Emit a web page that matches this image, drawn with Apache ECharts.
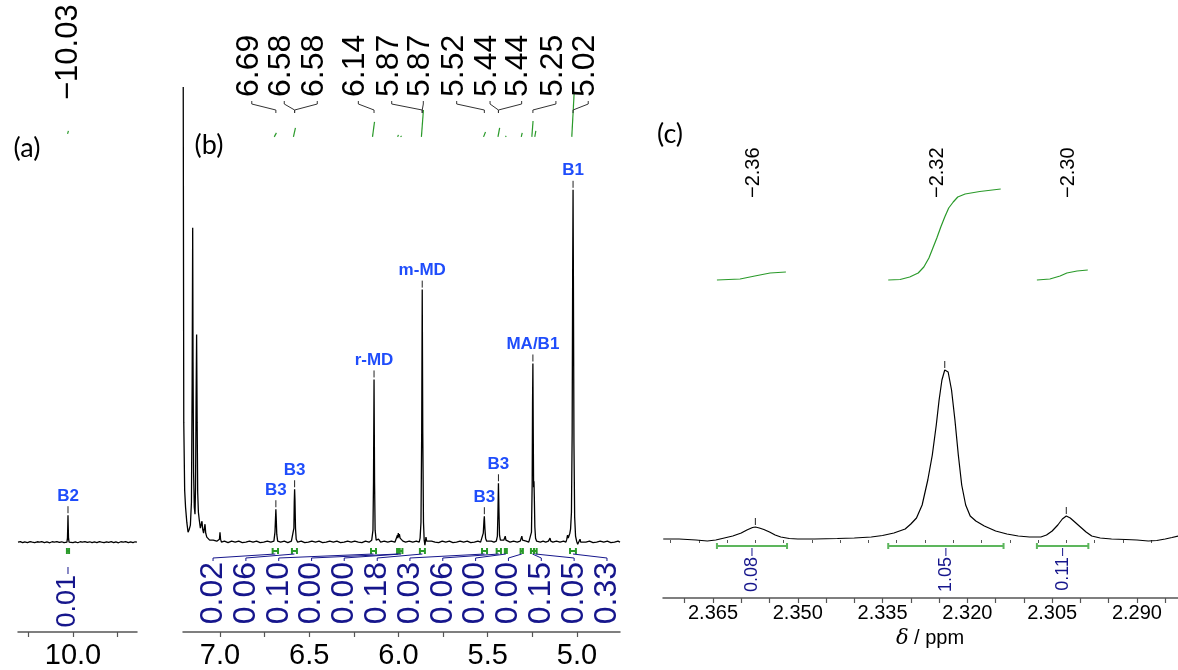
<!DOCTYPE html>
<html>
<head>
<meta charset="utf-8">
<script src="https://cdn.jsdelivr.net/npm/echarts@6/dist/echarts.min.js"></script>
<style>
html, body { margin: 0; padding: 0; background: #fff; }
#nmr { width: 1178px; height: 670px; }
</style>
</head>
<body>
<div id="nmr"></div>
<script>
// ---- panel (a): 10.3 - 9.64 ppm ----
var spec_a = [[10.308, 0], [10.295, 0.5], [10.282, -0.5], [10.27, 0.3], [10.255, -0.4], [10.24, 0.6], [10.228, 0],
    [10.215, -0.5], [10.2, 0.4], [10.187, 0], [10.175, 0.6], [10.16, -0.4], [10.146, 0.2], [10.13, -0.6],
    [10.117, 0.4], [10.104, 0], [10.09, 0.5], [10.077, -0.3], [10.063, 0.4], [10.05, -0.5], [10.04, 0.3],
    [10.034, 0], [10.031, 4], [10.029, 18], [10.028, 27], [10.027, 18], [10.025, 4], [10.022, 0],
    [10.012, 0.5], [10.0, -0.4], [9.987, 0.3], [9.973, -0.6], [9.96, 0.4], [9.947, 0], [9.933, 0.6],
    [9.92, -0.3], [9.906, 0.4], [9.893, -0.5], [9.88, 0.2], [9.866, -0.4], [9.852, 0.5], [9.84, 0],
    [9.826, -0.5], [9.812, 0.4], [9.8, -0.2], [9.786, 0.5], [9.772, -0.4], [9.76, 0.3], [9.745, -0.6],
    [9.732, 0.4], [9.718, 0], [9.705, 0.5], [9.69, -0.4], [9.677, 0.3], [9.664, -0.5], [9.652, 0.4], [9.642, 0]];
var name_ppm_a = [10.028];
var names_a = ['B2'];
var tag_ppm_a = [10.028];
var tag_text_a = ['10.03'];
var int_from_a = [10.034];
var int_to_a = [10.022];
var int_val_a = [0.01];
var int_rise_a = [3];
var ticks_a = [10.25, 10.0, 9.75];
var tick_labels_a = [10.0];

// ---- panel (b): 7.2 - 4.76 ppm ----
var spec_b = [[7.206, 456], [7.203, 120], [7.198, 52], [7.193, 35], [7.186, 20], [7.179, 10], [7.172, 13], [7.166, 17],
    [7.160, 40], [7.156, 160], [7.153, 315], [7.151, 180], [7.148, 70], [7.144, 35], [7.140, 28],
    [7.137, 55], [7.134, 140], [7.131, 208], [7.128, 120], [7.125, 50], [7.121, 30], [7.116, 22],
    [7.110, 14], [7.105, 13], [7.101, 21], [7.097, 13], [7.092, 9], [7.088, 11], [7.084, 18], [7.080, 9],
    [7.074, 5], [7.066, 3], [7.058, 2], [7.048, 1], [7.038, 2], [7.028, 0], [7.018, 1], [7.008, 0],
    [7.003, 3], [7.000, 10], [6.997, 3], [6.992, 0], [6.975, 1], [6.955, -0.5], [6.935, 1], [6.915, 0],
    [6.895, 1], [6.875, -0.5], [6.855, 0], [6.835, 1], [6.815, 0], [6.795, 1], [6.775, -0.5], [6.755, 0],
    [6.735, 1], [6.715, 0], [6.698, 1], [6.692, 10], [6.689, 24], [6.687, 33], [6.685, 24], [6.682, 8],
    [6.677, 1], [6.66, 0], [6.64, 1], [6.62, -0.5], [6.60, 1], [6.591, 2], [6.586, 14], [6.584, 40],
    [6.582, 53], [6.580, 42], [6.577, 14], [6.573, 3], [6.565, 0], [6.545, 1], [6.525, -0.5], [6.505, 0],
    [6.485, 1], [6.465, 0], [6.445, 1], [6.425, -0.5], [6.405, 0], [6.385, 1], [6.365, 0], [6.345, 1],
    [6.325, -0.5], [6.305, 0], [6.285, 1], [6.265, 0], [6.245, 1], [6.225, 0], [6.205, -0.5], [6.185, 1],
    [6.165, 0], [6.150, 2], [6.143, 12], [6.140, 60], [6.137, 163], [6.134, 60], [6.131, 12], [6.125, 2],
    [6.118, 0], [6.112, 3], [6.100, 0], [6.08, 1], [6.06, 0], [6.04, 1], [6.02, 0], [6.010, 2], [6.006, 7],
    [6.004, 4], [6.001, 9], [5.998, 5], [5.995, 8], [5.991, 4], [5.986, 6], [5.982, 2], [5.975, 1], [5.96, 0],
    [5.94, 1], [5.92, 0], [5.90, 1], [5.884, 0], [5.879, 4], [5.874, 20], [5.870, 110], [5.867, 253],
    [5.864, 110], [5.860, 20], [5.856, 2], [5.852, -3], [5.849, 1], [5.846, 5], [5.842, 1], [5.835, 0],
    [5.815, 1], [5.795, 0], [5.775, -0.5], [5.755, 1], [5.735, 0], [5.715, 1], [5.695, -0.5], [5.675, 0],
    [5.655, 1], [5.635, 0], [5.615, 1], [5.595, -0.5], [5.575, 0], [5.555, 1], [5.540, 0], [5.530, 2],
    [5.525, 9], [5.521, 22], [5.519, 26], [5.516, 14], [5.512, 4], [5.506, 1], [5.495, 0], [5.480, 1],
    [5.465, 0], [5.452, 1], [5.446, 6], [5.443, 28], [5.440, 59], [5.437, 30], [5.434, 7], [5.429, 2],
    [5.420, 1], [5.410, 2], [5.406, 3], [5.402, 6], [5.398, 2], [5.390, 1], [5.375, 0], [5.355, 1],
    [5.335, 0], [5.318, 1], [5.313, 3], [5.309, 6], [5.305, 2], [5.298, 0], [5.285, 1], [5.270, 0],
    [5.260, 2], [5.255, 10], [5.251, 60], [5.249, 140], [5.247, 179], [5.245, 110], [5.243, 55],
    [5.241, 61], [5.239, 45], [5.236, 15], [5.232, 4], [5.226, 1], [5.215, 2], [5.205, 0], [5.190, 1],
    [5.175, 0], [5.160, 1], [5.155, 2], [5.151, 4], [5.147, 1], [5.135, 0], [5.115, 1], [5.095, 0],
    [5.075, 1], [5.062, 0], [5.057, 3], [5.053, 7], [5.049, 4], [5.044, 6], [5.040, 9], [5.036, 13],
    [5.031, 30], [5.027, 110], [5.024, 280], [5.022, 353], [5.020, 260], [5.017, 100], [5.013, 25],
    [5.008, 6], [5.002, 1], [4.996, -2], [4.991, -4], [4.987, -1], [4.983, 3], [4.979, 0], [4.970, 1],
    [4.950, 0], [4.930, 1], [4.910, -0.5], [4.890, 0], [4.870, 1], [4.850, 0], [4.830, 1], [4.810, -0.5],
    [4.790, 0], [4.770, 1], [4.759, 0]];
var name_ppm_b = [6.687, 6.582, 6.137, 5.867, 5.519, 5.440, 5.247, 5.022];
var names_b = ['B3', 'B3', 'r-MD', 'm-MD', 'B3', 'B3', 'MA/B1', 'B1'];
var tag_ppm_b = [6.687, 6.582, 6.582, 6.137, 5.867, 5.867, 5.519, 5.440, 5.440, 5.247, 5.022];
var tag_text_b = ['6.69', '6.58', '6.58', '6.14', '5.87', '5.87', '5.52', '5.44', '5.44', '5.25', '5.02'];
var int_from_b = [6.705, 6.597, 6.154, 6.008, 5.993, 5.880, 5.532, 5.450, 5.404, 5.316, 5.258, 5.241, 5.039];
var int_to_b = [6.675, 6.569, 6.126, 5.997, 5.978, 5.852, 5.504, 5.426, 5.393, 5.303, 5.241, 5.226, 5.006];
var int_val_b = [0.02, 0.06, 0.10, 0.00, 0.00, 0.18, 0.03, 0.06, 0.00, 0.00, 0.15, 0.05, 0.33];
var int_rise_b = [4, 9, 15, 2, 1, 27, 5, 9, 1, 4, 16, 6, 44];
var ticks_b = [7.0, 6.75, 6.5, 6.25, 6.0, 5.75, 5.5, 5.25, 5.0];
var tick_labels_b = [7.0, 6.5, 6.0, 5.5, 5.0];

// ---- panel (c): 2.374 - 2.283 ppm ----
var spec_c = [[2.3738, 1], [2.3710, 1], [2.3680, 0], [2.3660, -1], [2.3645, 0], [2.3630, 2], [2.3615, 4],
    [2.3600, 7], [2.3590, 10], [2.3580, 12.5], [2.3575, 13], [2.3568, 12], [2.3560, 10.5], [2.3550, 8],
    [2.3540, 5], [2.3530, 3], [2.3515, 1.5], [2.3500, 1], [2.3470, 1], [2.3430, 1.5], [2.3400, 2],
    [2.3370, 3], [2.3350, 4.5], [2.3330, 7], [2.3310, 11], [2.3300, 16], [2.3290, 22], [2.3280, 35],
    [2.3270, 60], [2.3262, 85], [2.3255, 115], [2.3250, 140], [2.3245, 160], [2.3240, 170], [2.3234, 168],
    [2.3228, 150], [2.3222, 120], [2.3216, 85], [2.3210, 55], [2.3203, 35], [2.3195, 24], [2.3185, 19],
    [2.3170, 14], [2.3150, 9], [2.3130, 6], [2.3110, 4], [2.3090, 3], [2.3070, 3], [2.3060, 5], [2.3050, 9],
    [2.3040, 15], [2.3032, 21], [2.3025, 24], [2.3018, 22], [2.3010, 18], [2.3000, 13], [2.2990, 8],
    [2.2980, 4], [2.2965, 2], [2.2945, 1], [2.2920, 0.5], [2.2900, 0], [2.2880, -1], [2.2865, -0.5],
    [2.2850, 1], [2.2838, 2.5], [2.2827, 4]];
var curve_c1 = [[2.3643, 260], [2.3602, 261], [2.3576, 264], [2.3549, 267], [2.3521, 268]];
var curve_c2 = [[2.3340, 260], [2.3319, 260.5], [2.3302, 263], [2.3287, 267], [2.3277, 273], [2.3268, 282],
    [2.3261, 292], [2.3254, 302], [2.3247, 313], [2.3240, 323], [2.3233, 332], [2.3225, 338], [2.3217, 343],
    [2.3204, 346], [2.3178, 348.5], [2.3141, 351]];
var curve_c3 = [[2.3077, 260], [2.3054, 261], [2.3036, 264], [2.3024, 267], [2.3006, 269], [2.2987, 270]];
var tag_ppm_c = [2.3575, 2.3240, 2.3025];
var tag_text_c = ['2.36', '2.32', '2.30'];
var int_from_c = [2.3643, 2.3340, 2.3077];
var int_to_c = [2.3519, 2.3136, 2.2986];
var int_val_c = [0.08, 1.05, 0.11];
var ticks_c = [2.370, 2.365, 2.360, 2.355, 2.350, 2.345, 2.340, 2.335, 2.330, 2.325, 2.320, 2.315, 2.310,
    2.305, 2.300, 2.295, 2.290, 2.285];
var minor_ticks_c = [2.3725, 2.3675, 2.3625, 2.3575, 2.3525, 2.3475, 2.3425, 2.3375, 2.3325, 2.3275, 2.3225,
    2.3175, 2.3125, 2.3075, 2.3025, 2.2975, 2.2925, 2.2875];
var tick_labels_c = [2.365, 2.350, 2.335, 2.320, 2.305, 2.290];

// label slots (where the rotated texts sit), in ppm
var tag_slot_a = [10.028];
var tag_slot_b = [6.822, 6.640, 6.455, 6.225, 6.038, 5.861, 5.674, 5.487, 5.310, 5.118, 4.937];
var tag_slot_c = [2.3579, 2.3252, 2.3022];
var int_slot_b = [7.039, 6.855, 6.671, 6.487, 6.304, 6.119, 5.936, 5.752, 5.568, 5.384, 5.200, 5.016, 4.832];

var FONT = '"Liberation Sans", Arial, Helvetica, sans-serif';
var BLUE = '#1f4dfb';
var NAVY = '#16168c';
var GREEN = '#2a9a2a';
var BAR_GREEN = '#5db65d';

function peak_top(spec, ppm, tol) {
    var best = -Infinity;
    spec.forEach(function (p) {
        if (Math.abs(p[0] - ppm) <= tol && p[1] > best) best = p[1];
    });
    return best;
}

function trace(idx, data, color, width) {
    return {
        type: 'line', xAxisIndex: idx, yAxisIndex: idx, data: data, symbol: 'none', silent: true,
        lineStyle: {color: color, width: width}, z: 3
    };
}

// peak pick marks + optional blue names
function peak_names(idx, ppms, names, spec, tol) {
    return {
        type: 'custom', xAxisIndex: idx, yAxisIndex: idx, silent: true, clip: false, z: 5,
        data: ppms.map(function (p) { return [p, peak_top(spec, p, tol)]; }),
        renderItem: function (params, api) {
            var pt = api.coord([api.value(0), api.value(1)]);
            var kids = [{
                type: 'line', shape: {x1: pt[0], y1: pt[1] - 2, x2: pt[0], y2: pt[1] - 9},
                style: {stroke: '#222', lineWidth: 1}
            }];
            if (names) {
                kids.push({
                    type: 'text', x: pt[0], y: pt[1] - 19,
                    style: {text: names[params.dataIndex], fill: BLUE, font: 'bold 17px ' + FONT,
                        align: 'center', verticalAlign: 'middle'}
                });
            }
            return {type: 'group', children: kids};
        }
    };
}

// rotated chemical shift tags on top
function peak_tags(idx, peaks, slots, texts, y_text, size, bracket) {
    return {
        type: 'custom', xAxisIndex: idx, yAxisIndex: idx, silent: true, clip: false, z: 5,
        data: peaks.map(function (p, i) { return [p, 0, slots[i]]; }),
        renderItem: function (params, api) {
            var xp = api.coord([api.value(0), 0])[0];
            var xs = api.coord([api.value(2), 0])[0];
            var txt = texts[params.dataIndex];
            var kids = [];
            if (bracket) {
                kids.push({
                    type: 'polyline',
                    shape: {points: [[xs, y_text + 4], [xs, y_text + 7], [xp, y_text + 13], [xp, y_text + 16]]},
                    style: {stroke: '#333', fill: null, lineWidth: 1}
                });
            } else {
                txt = '\u2212' + txt;
            }
            kids.push({
                type: 'text', x: bracket ? xs - 3 : xs, y: y_text, rotation: Math.PI / 2,
                style: {text: txt, fill: '#000', font: size + 'px ' + FONT, align: 'left', verticalAlign: 'middle'}
            });
            return {type: 'group', children: kids};
        }
    };
}

// integration bars, links and values
function integrals(idx, from, to, vals, slots, y_bar, y_link, y_text, size, bar_color, bar_width, cap) {
    return {
        type: 'custom', xAxisIndex: idx, yAxisIndex: idx, silent: true, clip: false, z: 4,
        data: from.map(function (f, i) { return [f, 0, to[i], slots ? slots[i] : (f + to[i]) / 2]; }),
        renderItem: function (params, api) {
            var xa = api.coord([api.value(0), 0])[0];
            var xb = api.coord([api.value(2), 0])[0];
            var xs = api.coord([api.value(3), 0])[0];
            var xc = (xa + xb) / 2;
            return {
                type: 'group', children: [
                    {type: 'polyline',
                        shape: {points: [[xa, y_bar - cap], [xa, y_bar + cap], [xa, y_bar], [xb, y_bar], [xb, y_bar - cap], [xb, y_bar + cap]]},
                        style: {stroke: bar_color, fill: null, lineWidth: bar_width}},
                    {type: 'polyline',
                        shape: {points: [[xc, y_link], [xs, y_text - 4], [xs, y_text - 1]]},
                        style: {stroke: NAVY, fill: null, lineWidth: 1}},
                    {type: 'text', x: xs, y: y_text, rotation: Math.PI / 2,
                        style: {text: vals[params.dataIndex].toFixed(2), fill: NAVY, font: size + 'px ' + FONT,
                            align: 'right', verticalAlign: 'middle'}}
                ]
            };
        }
    };
}

// small integral curves drawn above the peaks (rise over the middle of the region)
function integral_rise(idx, from, to, rise, base) {
    return {
        type: 'custom', xAxisIndex: idx, yAxisIndex: idx, silent: true, clip: false, z: 4,
        data: from.map(function (f, i) { return [f, base, to[i], base + rise[i]]; }),
        renderItem: function (params, api) {
            var f = api.value(0), t = api.value(2);
            var p0 = api.coord([f + (t - f) * 0.3, api.value(1)]);
            var p1 = api.coord([f + (t - f) * 0.7, api.value(3)]);
            return {type: 'line', shape: {x1: p0[0], y1: p0[1], x2: p1[0], y2: p1[1]},
                style: {stroke: GREEN, lineWidth: 1.2}};
        }
    };
}

function x_axis(grid, min, max, ticks, labels, digits, font_size, margin, tick_len) {
    return {
        gridIndex: grid, type: 'value', min: min, max: max, inverse: true, position: 'bottom',
        axisLine: {show: true, onZero: false, lineStyle: {color: '#555', width: 1.5}},
        axisTick: {show: true, customValues: ticks, length: tick_len, lineStyle: {color: '#555', width: 1.2}},
        axisLabel: {show: true, customValues: labels, margin: margin, fontSize: font_size, fontFamily: FONT,
            color: '#000', formatter: function (v) { return v.toFixed(digits); }},
        splitLine: {show: false}
    };
}

var nmr = echarts.init(document.getElementById('nmr'), null, {renderer: 'canvas'});

var axis_c = x_axis(2, 2.28274, 2.37384, ticks_c, tick_labels_c, 3, 20, 5, 5);
axis_c.name = '{i|\u03b4} / ppm';
axis_c.nameLocation = 'middle';
axis_c.nameGap = 24;
axis_c.nameTextStyle = {fontSize: 20, fontFamily: FONT, color: '#000', padding: [0, 0, 0, 19],
    rich: {i: {fontSize: 21, fontStyle: 'italic', fontFamily: '"DejaVu Serif", serif', color: '#000'}}};

var axis_c_minor = {
    gridIndex: 2, type: 'value', min: 2.28274, max: 2.37384, inverse: true, position: 'bottom', offset: 0,
    axisLine: {show: false},
    axisTick: {show: true, customValues: minor_ticks_c, length: 3, lineStyle: {color: '#555', width: 1}},
    axisLabel: {show: false}, splitLine: {show: false}
};

nmr.setOption({
    animation: false,
    backgroundColor: '#fff',
    grid: [
        {left: 18, width: 119, top: 80, bottom: 37},
        {left: 183, width: 437, top: 80, bottom: 37},
        {left: 663, right: 0, top: 80, bottom: 72}
    ],
    xAxis: [
        x_axis(0, 9.6415, 10.308, ticks_a, tick_labels_a, 1, 29, 9, 5),
        x_axis(1, 4.759, 7.2073, ticks_b, tick_labels_b, 1, 29, 9, 5),
        axis_c,
        axis_c_minor
    ],
    yAxis: [
        {gridIndex: 0, type: 'value', min: -90, max: 463, show: false},
        {gridIndex: 1, type: 'value', min: -90, max: 463, show: false},
        {gridIndex: 2, type: 'value', min: -58, max: 460, show: false}
    ],
    graphic: [
        {type: 'text', x: 27, y: 148, style: {text: '(a)', font: '27px Lato, "Open Sans", sans-serif', fill: '#000', align: 'center', verticalAlign: 'middle'}},
        {type: 'text', x: 209, y: 145, style: {text: '(b)', font: '27px Lato, "Open Sans", sans-serif', fill: '#000', align: 'center', verticalAlign: 'middle'}},
        {type: 'text', x: 670, y: 134, style: {text: '(c)', font: '27px Lato, "Open Sans", sans-serif', fill: '#000', align: 'center', verticalAlign: 'middle'}}
    ],
    series: [
        // (a)
        trace(0, spec_a, '#000', 1.3),
        peak_names(0, name_ppm_a, names_a, spec_a, 0.004),
        peak_tags(0, tag_ppm_a, tag_slot_a, tag_text_a, 100, 31, false),
        integral_rise(0, int_from_a, int_to_a, int_rise_a, 409),
        integrals(0, int_from_a, int_to_a, int_val_a, null, 551, 567, 575, 27, GREEN, 2, 3),
        // (b)
        trace(1, spec_b, '#000', 1.3),
        peak_names(1, name_ppm_b, names_b, spec_b, 0.004),
        peak_tags(1, tag_ppm_b, tag_slot_b, tag_text_b, 97, 32, true),
        integral_rise(1, int_from_b, int_to_b, int_rise_b, 406),
        integrals(1, int_from_b, int_to_b, int_val_b, int_slot_b, 551, 554, 562, 32, GREEN, 2, 3),
        // (c)
        trace(2, spec_c, '#000', 1.2),
        trace(2, curve_c1, GREEN, 1.2),
        trace(2, curve_c2, GREEN, 1.2),
        trace(2, curve_c3, GREEN, 1.2),
        peak_names(2, tag_ppm_c, null, spec_c, 0.0008),
        peak_tags(2, tag_ppm_c, tag_slot_c, tag_text_c, 198, 20, false),
        integrals(2, int_from_c, int_to_c, int_val_c, null, 546, 548, 557, 18, BAR_GREEN, 2, 3)
    ]
});
</script>
</body>
</html>
